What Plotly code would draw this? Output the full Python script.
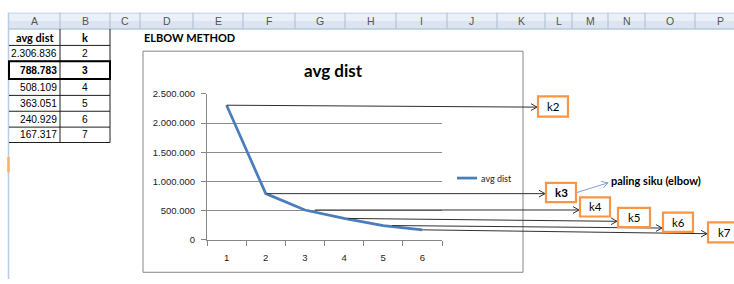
import math
import plotly.graph_objects as go

W, H = 734, 284

# ---------------- data ----------------
k_values = [2, 3, 4, 5, 6, 7]
avg_dist = [2306836, 788783, 508109, 363051, 240929, 167317]
x_labels = ["1", "2", "3", "4", "5", "6"]
col_letters = ["A", "B", "C", "D", "E", "F", "G", "H", "I", "J", "K", "L", "M", "N", "O", "P"]
series_name = "avg dist"
chart_title = "avg dist"
sheet_title = "ELBOW METHOD"
elbow_note = "paling siku (elbow)"
table_headers = ["avg dist", "k"]
y_max = 2500000
y_step = 500000

# ---------------- geometry (pixels) ----------------
PL, PR, PT, PB = 207, 442, 91.5, 243
col_edges = [8, 60, 110, 140, 193, 243, 295, 345, 396, 447, 497, 545, 572, 608, 645, 695, 745]
row_edges = [24, 41, 57.5, 76, 93, 109.5, 126, 142]
box_x0 = [538, 546, 580, 618, 663, 708]
box_y0 = [94, 184, 199, 210, 215, 225]
box_w = [30, 30, 30, 32, 30, 32]
box_h = [21, 20, 20, 20, 20, 21]
arrow_tail_dx = [0, 1, 10, 4, 9, 0]
arrow_tip_dy = [2, 0, 0, 3, 2.6, 4]

BLUE = "#4a7ebb"
ORANGE = "#f79646"
GRID = "#8c8c8c"
CALIBRI = "Lato"
ARIAL = "Liberation Sans"

n = len(avg_dist)


def fx(px):
    return px / W


def fy(py):
    return 1 - py / H


def cat_px(i):  # i = 0..n-1, category axis
    return PL + (i + 0.5) * (PR - PL) / n


def val_py(v):
    return PB - v / y_max * (PB - PT)


def fmt(v):
    return f"{v:,}".replace(",", ".")


fig = go.Figure()

# main data line
fig.add_trace(go.Scatter(
    x=x_labels, y=avg_dist, mode="lines", name=series_name,
    line=dict(color=BLUE, width=2.75), xaxis="x", yaxis="y",
    showlegend=False, hoverinfo="skip"))

# ---- arrows on pixel overlay axes ----
def chevron(tail, tip, L=6, half=3.5):
    dx, dy = tip[0] - tail[0], tip[1] - tail[1]
    d = math.hypot(dx, dy)
    ux, uy = dx / d, dy / d
    nx, ny = -uy, ux
    bx, by = tip[0] - L * ux, tip[1] - L * uy
    return ([bx + half * nx, tip[0], bx - half * nx, None],
            [by + half * ny, tip[1], by - half * ny, None])


ax_x, ax_y = [], []
for i, v in enumerate(avg_dist):
    tail = (cat_px(i) + arrow_tail_dx[i], val_py(v))
    tip = (box_x0[i] - 1, val_py(v) + arrow_tip_dy[i])
    ax_x += [tail[0], tip[0], None]
    ax_y += [tail[1], tip[1], None]
    cx, cy = chevron(tail, tip)
    ax_x += cx
    ax_y += cy
fig.add_trace(go.Scatter(x=ax_x, y=ax_y, mode="lines", xaxis="x2", yaxis="y2",
                         line=dict(color="#303030", width=1), showlegend=False,
                         hoverinfo="skip"))

# elbow note arrow (from k3 box)
e_tail = (box_x0[1] + box_w[1] + 1, box_y0[1] + box_h[1] / 2)
e_tip = (608, 184)
cx, cy = chevron(e_tail, e_tip)
fig.add_trace(go.Scatter(x=[e_tail[0], e_tip[0], None] + cx,
                         y=[e_tail[1], e_tip[1], None] + cy,
                         mode="lines", xaxis="x2", yaxis="y2",
                         line=dict(color="#7da0d4", width=1), showlegend=False,
                         hoverinfo="skip"))

shapes = []
annotations = []


def rect(x0, y0, x1, y1, fill=None, line=None, lw=1, layer="below"):
    shapes.append(dict(type="rect", xref="paper", yref="paper",
                       x0=fx(x0), x1=fx(x1), y0=fy(y1), y1=fy(y0),
                       fillcolor=fill or "rgba(0,0,0,0)",
                       line=dict(color=line or "rgba(0,0,0,0)", width=lw if line else 0),
                       layer=layer))


def hline(x0, x1, y, color, lw=1, layer="above"):
    shapes.append(dict(type="line", xref="paper", yref="paper",
                       x0=fx(x0), x1=fx(x1), y0=fy(y), y1=fy(y),
                       line=dict(color=color, width=lw), layer=layer))


def vline(x, y0, y1, color, lw=1, layer="above"):
    shapes.append(dict(type="line", xref="paper", yref="paper",
                       x0=fx(x), x1=fx(x), y0=fy(y0), y1=fy(y1),
                       line=dict(color=color, width=lw), layer=layer))


def text(t, px, py, size, bold=False, anchor="center", color="#000000", family=CALIBRI):
    annotations.append(dict(text=f"<b>{t}</b>" if bold else t, xref="paper", yref="paper",
                            x=fx(px), y=fy(py), xanchor=anchor, yanchor="middle",
                            showarrow=False, borderpad=0,
                            font=dict(family=family, size=size, color=color)))


# ---- spreadsheet column header bar ----
rect(8, 7, W + 2, 15.5, fill="#eaf0f8")
rect(8, 15.5, W + 2, 24, fill="#dbe4f0")
hline(8, W + 2, 7.5, "#c5d3e3")
hline(8, W + 2, 24, "#9eb6ce")
for e in col_edges[1:-1]:
    vline(e, 7, 24, "#a9bdd3")
for i, letter in enumerate(col_letters):
    text(letter, (col_edges[i] + col_edges[i + 1]) / 2, 16, 10.5, color="#555555", family=ARIAL)

# row header edge
vline(8.5, 7, H, "#b8cce4", lw=1.5)
vline(8.5, 157, 173, "#f4b26b", lw=2.5)

# ---- table ----
xA0, xA1, xB1 = col_edges[0] + 1, col_edges[1], col_edges[2]
vline(xA1, row_edges[0], row_edges[-1], "#1e1e1e")
vline(xB1, row_edges[0], row_edges[-1], "#1e1e1e")
for r in row_edges[1:]:
    hline(xA0, xB1, r, "#1e1e1e")
text(table_headers[0], (xA0 + xA1) / 2, 33, 11, bold=True)
text(table_headers[1], (xA1 + xB1) / 2, 33, 11, bold=True)
for i, (v, k) in enumerate(zip(avg_dist, k_values)):
    yc = (row_edges[i + 1] + row_edges[i + 2]) / 2
    bold = (i == 1)
    text(fmt(v), xA1 - 2, yc, 10.2, bold=bold, anchor="right", family=ARIAL)
    text(str(k), (xA1 + xB1) / 2, yc, 10.2, bold=bold, family=ARIAL)
rect(xA0, row_edges[2], xB1, row_edges[3], line="#000000", lw=2, layer="above")

text(sheet_title, 143, 33, 11, bold=True, anchor="left")

# ---- chart frame ----
rect(143, 47, 523, 277, fill="#ffffff", line="#868686", lw=1, layer="below")
text(chart_title, 333, 67, 17, bold=True)

# legend
hline(457, 477, 179, BLUE, lw=2.75)
text(series_name, 480, 179, 9, anchor="left", color="#222222")

# ---- k boxes ----
for i, k in enumerate(k_values):
    x0, y0 = box_x0[i], box_y0[i]
    rect(x0, y0, x0 + box_w[i], y0 + box_h[i], fill="#ffffff", line=ORANGE, lw=2.2, layer="above")
    text(f"k{k}", x0 + box_w[i] / 2, y0 + box_h[i] / 2, 11.5, bold=(i == 1))

text(elbow_note, 610, 182, 11, bold=True, anchor="left")

fig.update_layout(
    width=W, height=H,
    margin=dict(l=0, r=0, t=0, b=0),
    paper_bgcolor="#ffffff", plot_bgcolor="rgba(0,0,0,0)",
    separators=",.",
    showlegend=False,
    shapes=shapes, annotations=annotations,
    xaxis=dict(domain=[fx(PL), fx(PR)], type="category", range=[-0.5, n - 0.5],
               tickson="boundaries", ticks="outside", ticklen=5, tickcolor="#868686",
               showline=True, linecolor="#868686", linewidth=1, showgrid=False,
               ticklabelstandoff=9, anchor="y",
               tickfont=dict(family=ARIAL, size=9.5, color="#222222")),
    yaxis=dict(domain=[fy(PB), fy(PT)], range=[0, y_max], dtick=y_step, tick0=0,
               tickformat=",d", ticks="outside", ticklen=5, tickcolor="#868686",
               showline=True, linecolor="#868686", linewidth=1,
               showgrid=True, gridcolor=GRID, gridwidth=1, zeroline=False,
               ticklabelstandoff=4, anchor="x",
               tickfont=dict(family=ARIAL, size=9.5, color="#222222")),
    xaxis2=dict(domain=[0, 1], range=[0, W], visible=False, anchor="y2", fixedrange=True),
    yaxis2=dict(domain=[0, 1], range=[H, 0], visible=False, anchor="x2", fixedrange=True),
)

fig.write_html("out.html", config={"displayModeBar": False},
               post_script="document.body.style.margin='0';document.body.style.padding='0';")
